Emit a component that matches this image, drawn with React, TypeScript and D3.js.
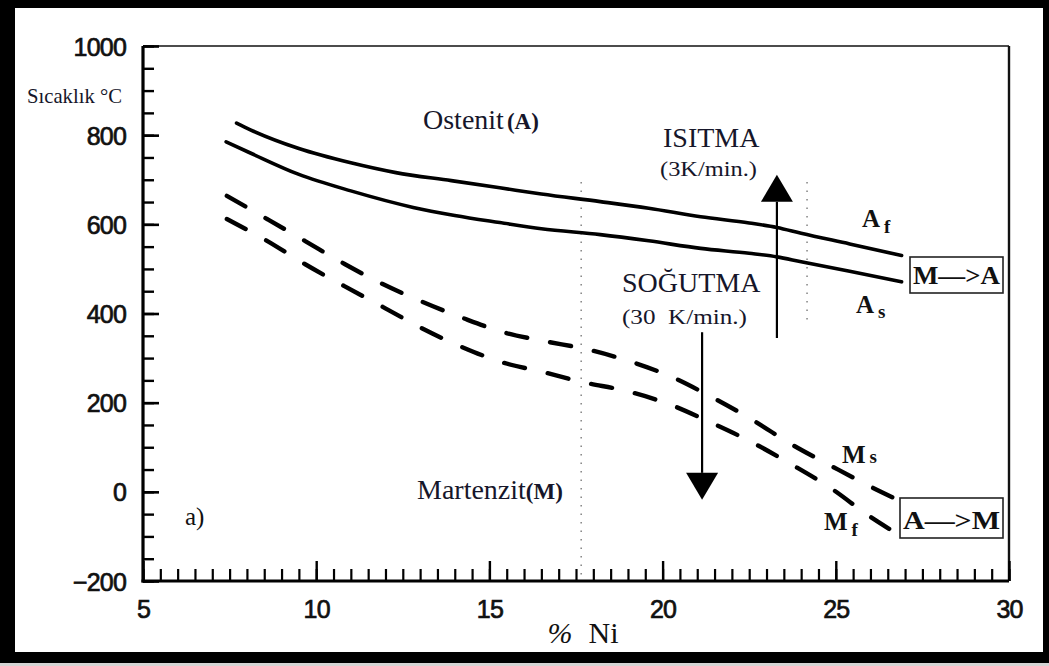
import React, { useEffect, useRef } from 'react';
import * as d3 from 'd3';

// axis ticks
const niTicks = [5, 10, 15, 20, 25, 30];
const tempTicks = [-200, 0, 200, 400, 600, 800, 1000];
const tempTickLabels = ['\u2212200', '0', '200', '400', '600', '800', '1000'];

// transformation curves, [% Ni, °C]
const afCurve = [
  [7.7, 827], [8.1, 812], [9.5, 770], [11.0, 738], [12.3, 716], [13.9, 698],
  [15.3, 682], [16.5, 668], [18.2, 651], [19.6, 636], [21.1, 617], [22.5, 603],
  [23.3, 593], [24.0, 580], [25.4, 556], [26.9, 530],
];
const asCurve = [
  [7.4, 785], [8.1, 760], [9.5, 712], [11.0, 675], [12.8, 638], [14.0, 620],
  [15.3, 604], [16.5, 590], [18.2, 577], [19.6, 563], [21.1, 546], [22.5, 535],
  [23.3, 527], [24.0, 516], [25.4, 495], [26.9, 471],
];
const msCurve = [
  [7.42, 664], [8.58, 612], [9.67, 563], [10.82, 511], [11.92, 466], [13.07, 426],
  [14.23, 390], [15.41, 358], [16.59, 338], [17.8, 320], [19.04, 293], [20.2, 260],
  [21.41, 213], [22.56, 163], [23.71, 107], [24.87, 58], [26.02, 11], [26.63, -12],
];
const mfCurve = [
  [7.42, 612], [8.58, 563], [9.67, 511], [10.8, 462], [11.92, 415], [13.05, 367],
  [14.2, 325], [15.35, 291], [16.53, 269], [17.69, 246], [18.96, 226], [20.17, 197],
  [21.35, 157], [22.56, 112], [23.71, 62], [24.9, 6], [25.96, -54], [26.54, -83],
];

// arrows [% Ni, from °C, to °C]
const heatArrow = [23.3, 345, 711];
const coolArrow = [21.14, 358, -18];

// dotted guides [% Ni, top °C, bottom °C]
const guides = [
  [17.65, 695, -200],
  [24.17, 695, 385],
];

const W = 1049;
const H = 666;
const serif = "'Liberation Serif', 'Times New Roman', serif";
const sans = "'Liberation Sans', Arial, sans-serif";
const ink = '#16162a';

export default function App() {
  const ref = useRef<SVGSVGElement>(null);

  useEffect(() => {
    const svg = d3.select(ref.current);
    svg.selectAll('*').remove();

    // outer frame
    svg.append('rect').attr('x', 0).attr('y', 0).attr('width', W).attr('height', H).attr('fill', '#d4d4d4');
    svg.append('rect').attr('x', 0).attr('y', 0).attr('width', W).attr('height', 663).attr('fill', '#000');
    svg.append('rect').attr('x', 15).attr('y', 8).attr('width', 1028).attr('height', 644).attr('fill', '#fff');

    const x = d3.scaleLinear().domain([5, 30]).range([143, 1009]);
    const y = d3.scaleLinear().domain([-200, 1000]).range([581, 46]);

    // plot box top / right
    svg.append('line')
      .attr('x1', x(5)).attr('x2', x(30)).attr('y1', y(1000)).attr('y2', y(1000))
      .attr('stroke', '#111').attr('stroke-width', 1.6);
    svg.append('line')
      .attr('x1', x(30)).attr('x2', x(30)).attr('y1', y(1000)).attr('y2', y(-200))
      .attr('stroke', '#111').attr('stroke-width', 2.4);

    // dotted guides
    svg.selectAll('.guide').data(guides).enter().append('line')
      .attr('x1', d => x(d[0])).attr('x2', d => x(d[0]))
      .attr('y1', d => y(d[1])).attr('y2', d => y(d[2]))
      .attr('stroke', '#8a8a8a').attr('stroke-width', 1.6)
      .attr('stroke-dasharray', '1.5 7');

    // curves
    const line = d3.line<number[]>()
      .x(d => x(d[0]))
      .y(d => y(d[1]))
      .curve(d3.curveMonotoneX);

    [afCurve, asCurve].forEach(c => {
      svg.append('path').attr('d', line(c)).attr('fill', 'none')
        .attr('stroke', '#000').attr('stroke-width', 3.6).attr('stroke-linecap', 'round');
    });
    [msCurve, mfCurve].forEach(c => {
      const p = svg.append('path').attr('d', line(c)).attr('fill', 'none')
        .attr('stroke', '#000').attr('stroke-width', 4.4).attr('stroke-linecap', 'round');
      // fit the dash pattern so the curve starts and ends with a dash
      const len = (p.node() as SVGPathElement).getTotalLength();
      const n = Math.max(1, Math.round((len - 22) / 46));
      const s = len / (n * 46 + 22);
      p.attr('stroke-dasharray', `${22 * s} ${24 * s}`);
    });

    // arrows
    const drawArrow = (a: number[]) => {
      const ax = x(a[0]);
      const y0 = y(a[1]);
      const y1 = y(a[2]);
      const dir = y1 < y0 ? -1 : 1;
      const head = 27;
      svg.append('line')
        .attr('x1', ax).attr('x2', ax).attr('y1', y0).attr('y2', y1 - dir * head)
        .attr('stroke', '#000').attr('stroke-width', 2.2);
      svg.append('path')
        .attr('d', `M${ax},${y1} L${ax - 16},${y1 - dir * head} L${ax + 16},${y1 - dir * head} Z`)
        .attr('fill', '#000');
    };
    drawArrow(heatArrow);
    drawArrow(coolArrow);

    // y axis
    svg.append('g')
      .attr('transform', `translate(${x(5)},0)`)
      .call(d3.axisLeft(y).tickValues(d3.range(-200, 1001, 50)).tickSize(-11).tickFormat(() => ''))
      .call(g => g.select('.domain').remove())
      .call(g => g.selectAll('line').attr('stroke', '#000').attr('stroke-width', 2.4));
    svg.append('g')
      .attr('transform', `translate(${x(5)},0)`)
      .call(d3.axisLeft(y).tickValues(tempTicks).tickSize(-16).tickPadding(17)
        .tickFormat((d, i) => tempTickLabels[i]))
      .call(g => g.select('.domain').remove())
      .call(g => g.selectAll('line').attr('stroke', '#000').attr('stroke-width', 2.6))
      .call(g => g.selectAll('text')
        .attr('font-family', sans).attr('font-size', 25).attr('fill', '#111')
        .attr('stroke', '#111').attr('stroke-width', 0.7).attr('letter-spacing', -0.8)
        .attr('dy', '0.36em'));

    // x axis
    svg.append('g')
      .attr('transform', `translate(0,${y(-200)})`)
      .call(d3.axisBottom(x).tickValues(d3.range(5, 30.01, 0.5)).tickSize(-12).tickFormat(() => ''))
      .call(g => g.select('.domain').remove())
      .call(g => g.selectAll('line').attr('stroke', '#000').attr('stroke-width', 2.2));
    svg.append('g')
      .attr('transform', `translate(0,${y(-200)})`)
      .call(d3.axisBottom(x).tickValues(niTicks).tickSize(-20).tickPadding(19)
        .tickFormat(d => String(d)))
      .call(g => g.select('.domain').remove())
      .call(g => g.selectAll('line').attr('stroke', '#000').attr('stroke-width', 2.4))
      .call(g => g.selectAll('text')
        .attr('font-family', sans).attr('font-size', 25).attr('fill', '#111')
        .attr('stroke', '#111').attr('stroke-width', 0.7).attr('letter-spacing', -0.8));

    // axis lines
    svg.append('line')
      .attr('x1', x(5)).attr('x2', x(5)).attr('y1', y(1000)).attr('y2', y(-200) + 1.5)
      .attr('stroke', '#000').attr('stroke-width', 3.2);
    svg.append('line')
      .attr('x1', x(5) - 1.5).attr('x2', x(30)).attr('y1', y(-200)).attr('y2', y(-200))
      .attr('stroke', '#000').attr('stroke-width', 3.2);

    // text
    const txt = (s: string, px: number, py: number, size: number, opts: any = {}) =>
      svg.append('text')
        .attr('x', px).attr('y', py)
        .attr('font-family', opts.family || serif)
        .attr('font-size', size)
        .attr('font-weight', opts.weight || 'normal')
        .attr('fill', opts.fill || ink)
        .attr('text-anchor', opts.anchor || 'start')
        .style('white-space', 'pre')
        .text(s);

    txt('Sıcaklık °C', 27, 103, 21).attr('textLength', 95).attr('lengthAdjust', 'spacingAndGlyphs');

    const ost = svg.append('text').attr('x', 423).attr('y', 129)
      .attr('font-family', serif).attr('fill', ink);
    ost.append('tspan').attr('font-size', 28).text('Ostenit');
    ost.append('tspan').attr('font-size', 23).attr('font-weight', 'bold').attr('dx', 3).text('(A)');

    const mar = svg.append('text').attr('x', 417).attr('y', 499)
      .attr('font-family', serif).attr('fill', ink);
    mar.append('tspan').attr('font-size', 28).text('Martenzit');
    mar.append('tspan').attr('font-size', 23).attr('font-weight', 'bold').text('(M)');

    txt('ISITMA', 663, 147, 28);
    txt('(3K/min.)', 660, 176, 20).attr('textLength', 97).attr('lengthAdjust', 'spacingAndGlyphs');
    txt('SOĞUTMA', 622, 292, 28);
    txt('(30  K/min.)', 622, 324, 20).attr('textLength', 125).attr('lengthAdjust', 'spacingAndGlyphs');
    txt('a)', 185, 525, 25, { fill: '#111' });

    const sub = (main: string, s: string, px: number, py: number, sdy: number) => {
      const t = svg.append('text').attr('x', px).attr('y', py)
        .attr('font-family', serif).attr('font-weight', 'bold').attr('fill', '#111');
      t.append('tspan').attr('font-size', 25).text(main);
      t.append('tspan').attr('font-size', 19).attr('dx', 4).attr('dy', sdy).text(s);
    };
    sub('A', 'f', 862, 227, 6);
    sub('A', 's', 856, 313, 5);
    sub('M', 's', 842, 463, 0);
    sub('M', 'f', 824, 530, 6);

    // transformation boxes
    const box = (s: string, bx: number, by: number, bw: number, bh: number) => {
      svg.append('rect').attr('x', bx).attr('y', by).attr('width', bw).attr('height', bh)
        .attr('fill', '#fff').attr('stroke', '#222').attr('stroke-width', 1.6);
      svg.append('text').attr('x', bx + 3).attr('y', by + bh - 9)
        .attr('font-family', serif).attr('font-weight', 'bold').attr('font-size', 25)
        .attr('fill', '#111').attr('textLength', bw - 6).attr('lengthAdjust', 'spacingAndGlyphs')
        .text(s);
    };
    box('M\u2014>A', 910, 257, 93, 36);
    box('A\u2014>M', 900, 498, 103, 40);

    // axis title
    const ni = svg.append('text').attr('x', 583).attr('y', 643).attr('text-anchor', 'middle')
      .attr('font-family', serif).attr('font-size', 30).attr('fill', '#111');
    ni.append('tspan').attr('font-style', 'italic').text('%');
    ni.append('tspan').attr('dx', 16).text('Ni');
  }, []);

  return (
    <svg
      ref={ref}
      width={W}
      height={H}
      style={{ position: 'absolute', left: 0, top: 0, background: '#fff' }}
    />
  );
}
